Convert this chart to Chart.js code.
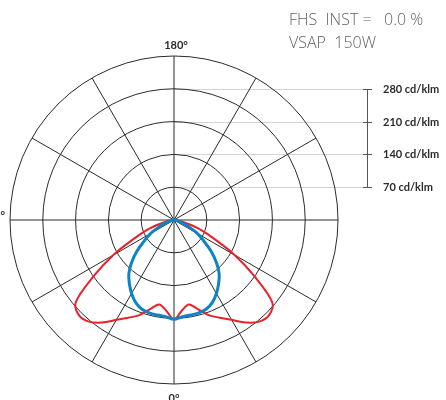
<!DOCTYPE html>
<html>
<head>
<meta charset="utf-8">
<title>VSAP 150W</title>
<script src="https://cdn.jsdelivr.net/npm/chart.js@4/dist/chart.umd.min.js"></script>
<style>
  html, body { margin: 0; padding: 0; background: #fff; }
  #wrap { position: relative; width: 446px; height: 400px; }
</style>
</head>
<body>
<div id="wrap"><canvas id="polar-chartcanvas"></canvas></div>
<script>
// angles from nadir (0°) in 5° steps
var angles = [
  0, 5, 10, 15, 20, 25, 30, 35, 40, 45, 50, 55, 60, 65, 70, 75, 80, 85,
  90, 95, 100, 105, 110, 115, 120, 125, 130, 135, 140, 145, 150, 155, 160, 165, 170, 175,
  180, 185, 190, 195, 200, 205, 210, 215, 220, 225, 230, 235, 240, 245, 250, 255, 260, 265,
  270, 275, 280, 285, 290, 295, 300, 305, 310, 315, 320, 325, 330, 335, 340, 345, 350, 355
];

// intensity, cd/klm
var planeC90 = [
  212, 207, 206, 205, 202, 194, 181, 166, 150, 128, 103, 77, 58, 36, 19, 11, 4, 2,
  0, 0, 0, 0, 0, 0, 0, 0, 0, 0, 0, 0, 0, 0, 0, 0, 0, 0,
  0, 0, 0, 0, 0, 0, 0, 0, 0, 0, 0, 0, 0, 0, 0, 0, 0, 0,
  0, 2, 4, 11, 19, 36, 58, 77, 103, 128, 150, 166, 181, 194, 202, 205, 206, 207
];
var planeC0 = [
  212, 194, 183, 197, 216, 230, 246, 267, 283, 287, 274, 210, 150, 94, 60, 30, 13, 4,
  0, 0, 0, 0, 0, 0, 0, 0, 0, 0, 0, 0, 0, 0, 0, 0, 0, 0,
  0, 0, 0, 0, 0, 0, 0, 0, 0, 0, 0, 0, 0, 0, 0, 0, 0, 0,
  0, 4, 13, 30, 60, 94, 150, 210, 274, 287, 283, 267, 246, 230, 216, 197, 183, 194
];

var ringValues = [70, 140, 210, 280];
var ringLabels = ["70 cd/klm", "140 cd/klm", "210 cd/klm", "280 cd/klm"];
var headerLines = ["FHS  INST =   0.0 %", "VSAP  150W"];

// scale guide lines, bracket and text around the diagram
var diagramText = {
  id: "diagramText",
  beforeDraw: function(chart) {
    var r = chart.scales.r;
    var c = chart.ctx;
    c.save();
    c.strokeStyle = "#d4d4d4";
    c.lineWidth = 1;
    ringValues.forEach(function(v) {
      var y = Math.round(r.yCenter - r.getDistanceFromCenterForValue(v)) + 0.5;
      c.beginPath();
      c.moveTo(r.xCenter, y);
      c.lineTo(364, y);
      c.stroke();
    });
    c.restore();
  },
  afterDraw: function(chart) {
    var r = chart.scales.r;
    var c = chart.ctx;
    c.save();

    // bracket
    var yTop = Math.round(r.yCenter - r.getDistanceFromCenterForValue(280)) + 0.5;
    var yBot = Math.round(r.yCenter - r.getDistanceFromCenterForValue(70)) + 0.5;
    c.strokeStyle = "#555";
    c.lineWidth = 1;
    c.beginPath();
    c.moveTo(367.5, yTop);
    c.lineTo(367.5, yBot);
    c.stroke();

    c.fillStyle = "#2b2b2b";
    c.font = "bold 11px Lato";
    c.textBaseline = "middle";
    c.textAlign = "left";
    ringValues.forEach(function(v, i) {
      var y = Math.round(r.yCenter - r.getDistanceFromCenterForValue(v)) + 0.5;
      c.beginPath();
      c.moveTo(363, y);
      c.lineTo(372, y);
      c.stroke();
      c.fillText(ringLabels[i], 383, y);
    });

    // angle labels
    var top = r.getPointPosition(36, r.drawingArea);
    var bottom = r.getPointPosition(0, r.drawingArea);
    c.textAlign = "center";
    c.textBaseline = "alphabetic";
    c.fillText("180°", top.x + 2, top.y - 7);
    c.fillText("0°", bottom.x, bottom.y + 18);
    c.textAlign = "right";
    c.textBaseline = "middle";
    c.fillText("90°", 5, r.yCenter - 5);

    // header
    c.fillStyle = "#5d6463";
    c.font = "300 16px 'Open Sans'";
    c.textAlign = "left";
    c.textBaseline = "alphabetic";
    c.fillText(headerLines[0], 289, 25);
    c.fillText(headerLines[1], 289, 48);
    c.restore();
  }
};

var ctx = document.getElementById("polar-chartcanvas");

var data = {
  labels: angles,
  datasets: [
    {
      label: "C90-C270",
      data: planeC90,
      borderColor: "#0c84c6",
      borderWidth: 3,
      fill: false,
      pointRadius: 0,
      tension: 0.35
    },
    {
      label: "C0-C180",
      data: planeC0,
      borderColor: "#e8212b",
      borderWidth: 2,
      fill: false,
      pointRadius: 0,
      tension: 0.35
    }
  ]
};

var options = {
  responsive: true,
  maintainAspectRatio: false,
  animation: false,
  layout: {
    padding: { left: 10, right: 108, top: 56, bottom: 16 }
  },
  plugins: {
    legend: { display: false },
    tooltip: { enabled: false }
  },
  scales: {
    r: {
      min: 0,
      max: 350,
      startAngle: 180,
      ticks: { display: false, stepSize: 70 },
      pointLabels: { display: false },
      grid: { circular: true, color: "#2a2a2a", lineWidth: 1 },
      angleLines: {
        color: "#2a2a2a",
        lineWidth: function(context) {
          return context.index % 6 === 0 ? 1 : 0;
        }
      }
    }
  }
};

var chart = new Chart(ctx, {
  type: "radar",
  data: data,
  options: options,
  plugins: [diagramText]
});
</script>
</body>
</html>
